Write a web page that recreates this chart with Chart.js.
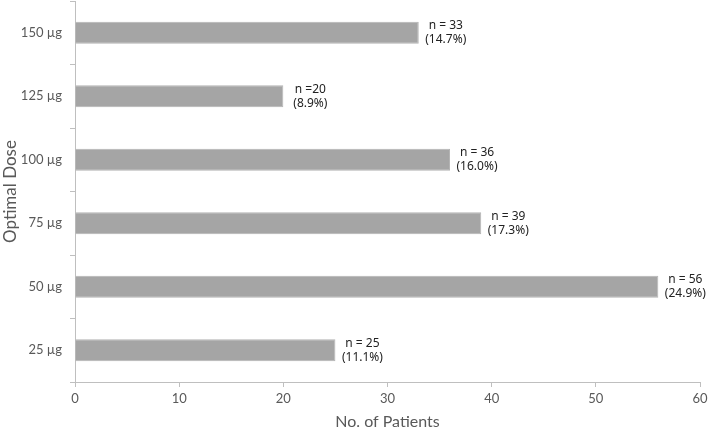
<!DOCTYPE html>
<html>
<head>
<meta charset="utf-8">
<script src="https://cdn.jsdelivr.net/npm/chart.js@4/dist/chart.umd.min.js"></script>
<style>
  body { margin: 0; background: #fff; }
  #wrap { width: 708px; height: 431px; }
</style>
</head>
<body>
<div id="wrap"><canvas id="barChart" width="708" height="431"></canvas></div>
<script>
var doses = ["150 µg", "125 µg", "100 µg", "75 µg", "50 µg", "25 µg"];
var patients = [33, 20, 36, 39, 56, 25];
var countLabels = ["n = 33", "n =20", "n = 36", "n = 39", "n = 56", "n = 25"];
var percentLabels = ["(14.7%)", "(8.9%)", "(16.0%)", "(17.3%)", "(24.9%)", "(11.1%)"];
var xTicks = [0, 10, 20, 30, 40, 50, 60];

var axisGrey = "#bfbfbf";
var textGrey = "#595959";

// draws the two-line "n = .. (..%)" note to the right of every bar
var barNotes = {
  id: "barNotes",
  afterDatasetsDraw: function (chart) {
    var ctx = chart.ctx;
    var bars = chart.getDatasetMeta(0).data;
    ctx.save();
    ctx.font = "12px 'Noto Sans'";
    ctx.fillStyle = "#222";
    ctx.textAlign = "center";
    ctx.textBaseline = "middle";
    bars.forEach(function (bar, i) {
      var cx = bar.x + 27;
      ctx.fillText(countLabels[i], cx, bar.y - 7);
      ctx.fillText(percentLabels[i], cx, bar.y + 7);
    });
    ctx.restore();
  },
};

function noEdgePadding(axis) {
  axis.paddingTop = 0;
  axis.paddingBottom = 0;
  axis.paddingLeft = 0;
  axis.paddingRight = 0;
}

var ctxB = document.getElementById("barChart").getContext("2d");
var myBarChart = new Chart(ctxB, {
  type: "bar",
  data: {
    labels: doses,
    datasets: [
      {
        data: patients,
        backgroundColor: "#a5a5a5",
        borderColor: "#b4b4b4",
        borderWidth: 1,
        categoryPercentage: 1,
        barPercentage: 0.35,
      },
    ],
  },
  options: {
    indexAxis: "y",
    responsive: false,
    animation: false,
    layout: { padding: { top: 1, right: 8, left: 0, bottom: 0 } },
    plugins: {
      legend: { display: false },
      tooltip: { enabled: false },
    },
    scales: {
      x: {
        min: 0,
        max: 60,
        afterBuildTicks: function (axis) {
          axis.ticks = xTicks.map(function (v) { return { value: v }; });
        },
        afterFit: function (axis) { axis.height = 49; noEdgePadding(axis); },
        border: { color: axisGrey, width: 1 },
        grid: { drawOnChartArea: false, color: axisGrey, tickLength: 5 },
        ticks: { color: textGrey, font: { family: "Lato", size: 13 }, padding: 4 },
        title: {
          display: true,
          text: "No. of Patients",
          color: textGrey,
          font: { family: "Lato", size: 16 },
          padding: { top: 9, bottom: 0 },
        },
      },
      y: {
        afterFit: function (axis) { axis.width = 75; noEdgePadding(axis); },
        border: { color: axisGrey, width: 1 },
        grid: { drawOnChartArea: false, color: axisGrey, tickLength: 5, offset: true },
        ticks: { color: textGrey, font: { family: "Lato", size: 13 }, padding: 8 },
        title: {
          display: true,
          text: "Optimal Dose",
          color: textGrey,
          font: { family: "Lato", size: 17 },
          padding: { top: 0, bottom: 0 },
        },
      },
    },
  },
  plugins: [barNotes],
});
</script>
</body>
</html>
